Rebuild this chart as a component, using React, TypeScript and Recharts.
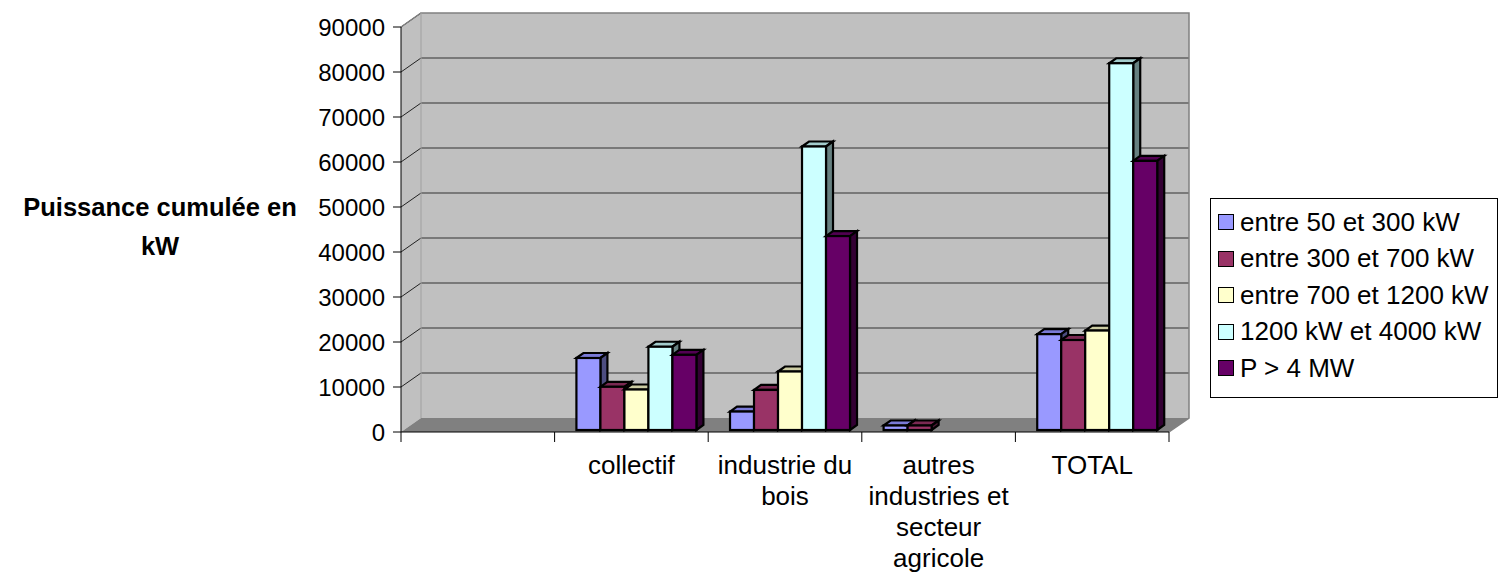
import React from "react";
import { BarChart, Bar, XAxis, YAxis, Legend, ReferenceArea } from "recharts";

// données (kW)
const categories = ["", "collectif", "industrie du bois", "autres industries et secteur agricole", "TOTAL"];
const seriesNames = ["entre 50 et 300 kW", "entre 300 et 700 kW", "entre 700 et 1200 kW", "1200 kW et 4000 kW", "P > 4 MW"];
const entre50et300 = [null, 16000, 4100, 1000, 21300];
const entre300et700 = [null, 9600, 8900, 1000, 20000];
const entre700et1200 = [null, 9000, 13000, 0, 22100];
const entre1200et4000 = [null, 18500, 63000, 0, 81500];
const plus4MW = [null, 16700, 43100, 0, 59800];
const yTicks = [0, 10000, 20000, 30000, 40000, 50000, 60000, 70000, 80000, 90000];
const yTitle = ["Puissance cumulée en", "kW"];

const seriesValues = [entre50et300, entre300et700, entre700et1200, entre1200et4000, plus4MW];
const colors = [
  { front: "#9999FF", top: "#7A7AD6", side: "#4D4D80" },
  { front: "#993366", top: "#7A2952", side: "#4D1A33" },
  { front: "#FFFFCC", top: "#CCCCA3", side: "#808066" },
  { front: "#CCFFFF", top: "#A3CCCC", side: "#668080" },
  { front: "#660066", top: "#520052", side: "#330033" },
];

const data = categories.map((name, i) => {
  const row: Record<string, string | number | null> = { name };
  seriesValues.forEach((vals, s) => (row["s" + s] = vals[i]));
  return row;
});

const W = 1504;
const H = 579;
const PLOT_LEFT = 401;
const PLOT_RIGHT = 1169;
const PLOT_TOP = 27;
const PLOT_BOTTOM = 432;
const DX = 20; // profondeur des murs
const DY = 14;
const BDX = 7; // profondeur des barres
const BDY = 5;
const BAR_SHIFT_X = 4;
const BAR_SHIFT_Y = -2;
const FONT = "'Liberation Sans', Arial, sans-serif";

function wrapLabel(text: string, max: number) {
  const words = text.split(" ");
  const lines: string[] = [];
  let cur = "";
  for (const w of words) {
    if (!cur) cur = w;
    else if ((cur + " " + w).length <= max) cur += " " + w;
    else {
      lines.push(cur);
      cur = w;
    }
  }
  if (cur) lines.push(cur);
  return lines;
}

function Walls(props: any) {
  const { x, y, width, height } = props;
  const yMax = yTicks[yTicks.length - 1];
  const bottom = y + height;
  return (
    <g>
      <rect x={x + DX} y={y - DY} width={width} height={height} fill="#C0C0C0" />
      <polygon points={`${x},${y} ${x + DX},${y - DY} ${x + DX},${bottom - DY} ${x},${bottom}`} fill="#C0C0C0" />
      <polygon
        points={`${x},${bottom} ${x + DX},${bottom - DY} ${x + width + DX},${bottom - DY} ${x + width},${bottom}`}
        fill="#808080"
      />
      {yTicks
        .filter((v) => v > 0)
        .map((v) => {
          const yy = y + height * (1 - v / yMax);
          return (
            <g key={v}>
              <line x1={x} y1={yy} x2={x + DX} y2={yy - DY} stroke="#222" strokeWidth={1} />
              {v < yMax && (
                <line x1={x + DX} y1={yy - DY} x2={x + width + DX} y2={yy - DY} stroke="#333" strokeWidth={1.2} />
              )}
            </g>
          );
        })}
      <polyline
        points={`${x},${y} ${x + DX},${y - DY} ${x + width + DX},${y - DY} ${x + width + DX},${bottom - DY} ${x + width},${bottom}`}
        fill="none"
        stroke="#808080"
        strokeWidth={1.5}
      />
      <line x1={x + DX} y1={y - DY} x2={x + DX} y2={bottom - DY} stroke="#A0A0A0" strokeWidth={1} />
    </g>
  );
}

function make3DBar(c: { front: string; top: string; side: string }) {
  return (props: any) => {
    const { x, y, width, height } = props;
    if (!height || height <= 0 || !width) return <g />;
    const x0 = x + BAR_SHIFT_X;
    const y0 = y + BAR_SHIFT_Y;
    const x1 = x0 + width;
    const y1 = y0 + height;
    const common = { stroke: "#000", strokeWidth: 2.2, strokeLinejoin: "miter" as const };
    return (
      <g>
        <polygon points={`${x0},${y0} ${x0 + BDX},${y0 - BDY} ${x1 + BDX},${y0 - BDY} ${x1},${y0}`} fill={c.top} {...common} />
        <polygon points={`${x1},${y0} ${x1 + BDX},${y0 - BDY} ${x1 + BDX},${y1 - BDY} ${x1},${y1}`} fill={c.side} {...common} />
        <rect x={x0} y={y0} width={width} height={height} fill={c.front} {...common} />
      </g>
    );
  };
}

function CategoryTick(props: any) {
  const { x, payload, index } = props;
  const band = (PLOT_RIGHT - PLOT_LEFT) / categories.length;
  const lines = wrapLabel(String(payload.value ?? ""), 14);
  return (
    <g>
      <line x1={x - band / 2} y1={PLOT_BOTTOM} x2={x - band / 2} y2={PLOT_BOTTOM + 10} stroke="#000" />
      {index === categories.length - 1 && (
        <line x1={x + band / 2} y1={PLOT_BOTTOM} x2={x + band / 2} y2={PLOT_BOTTOM + 10} stroke="#000" />
      )}
      <text x={x} y={PLOT_BOTTOM + 42} textAnchor="middle" fontFamily={FONT} fontSize={26} fill="#000">
        {lines.map((l, i) => (
          <tspan key={i} x={x} dy={i === 0 ? 0 : 31}>
            {l}
          </tspan>
        ))}
      </text>
    </g>
  );
}

function AxisTitle() {
  return (
    <text textAnchor="middle" fontFamily={FONT} fontSize={25.5} fontWeight="bold" fill="#000">
      <tspan x={160} y={216}>{yTitle[0]}</tspan>
      <tspan x={160} y={255}>{yTitle[1]}</tspan>
    </text>
  );
}

function LegendBox() {
  return (
    <div
      style={{
        width: 288,
        height: 200,
        boxSizing: "border-box",
        border: "1px solid #000",
        background: "#fff",
        paddingTop: 5,
        fontFamily: FONT,
        fontSize: 26,
        color: "#000",
      }}
    >
      {seriesNames.map((n, i) => (
        <div key={n} style={{ height: 36.5, display: "flex", alignItems: "center", paddingLeft: 7, whiteSpace: "nowrap" }}>
          <span
            style={{
              display: "inline-block",
              width: 16,
              height: 16,
              boxSizing: "border-box",
              border: "1.5px solid #000",
              background: colors[i].front,
              marginRight: 6,
            }}
          />
          <span>{n}</span>
        </div>
      ))}
    </div>
  );
}

export default function App() {
  return (
    <div style={{ position: "absolute", left: 0, top: 0, width: W, height: H, overflow: "hidden", background: "#fff" }}>
      <BarChart
        width={W}
        height={H}
        data={data}
        margin={{ top: PLOT_TOP, right: W - PLOT_RIGHT, bottom: 0, left: 0 }}
        barCategoryGap="11.6%"
        barGap={0}
      >
        <ReferenceArea y1={0} y2={yTicks[yTicks.length - 1]} shape={Walls} ifOverflow="visible" />
        {seriesNames.map((n, s) => (
          <Bar
            key={n}
            dataKey={"s" + s}
            name={n}
            fill={colors[s].front}
            shape={make3DBar(colors[s])}
            isAnimationActive={false}
          />
        ))}
        <XAxis
          dataKey="name"
          axisLine={{ stroke: "#000" }}
          tickLine={false}
          interval={0}
          tick={<CategoryTick />}
          height={H - PLOT_BOTTOM}
        />
        <YAxis
          domain={[0, yTicks[yTicks.length - 1]]}
          ticks={yTicks}
          interval={0}
          width={PLOT_LEFT}
          axisLine={{ stroke: "#000" }}
          tickLine={{ stroke: "#000" }}
          tickSize={8}
          tickMargin={8}
          tick={{ fontSize: 24, fill: "#000", fontFamily: FONT }}
          label={<AxisTitle />}
        />
        <Legend
          layout="horizontal"
          align="center"
          verticalAlign="middle"
          content={<LegendBox />}
          wrapperStyle={{ left: 1210, top: 198, width: 288, height: 200 }}
        />
      </BarChart>
    </div>
  );
}
